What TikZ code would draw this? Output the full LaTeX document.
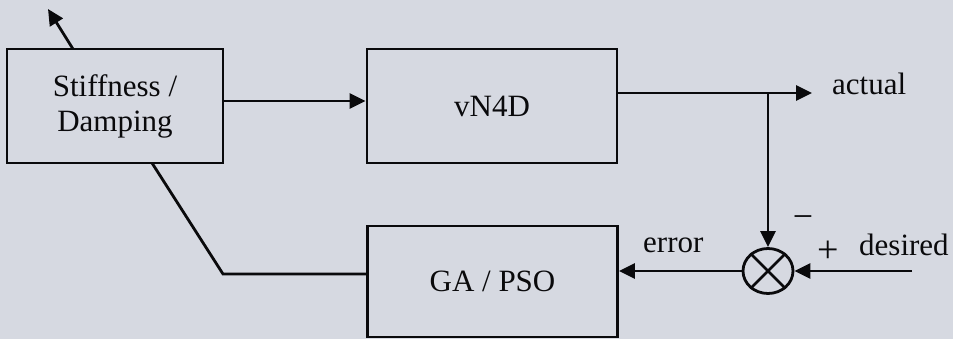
\documentclass[tikz,border=0pt]{standalone}
\usepackage{fontspec}
\setmainfont{Liberation Serif}
\usetikzlibrary{arrows.meta,shapes.geometric}
\definecolor{paper}{RGB}{214,217,225}
\definecolor{ink}{RGB}{10,10,12}
\tikzset{
  blk/.style={draw=ink, line width=2.8pt, rectangle, inner sep=0pt, align=center,
    font=\fontsize{31}{35}\selectfont, text=ink},
  lbl/.style={inner sep=0pt, font=\fontsize{31}{35}\selectfont, text=ink},
  sgn/.style={inner sep=0pt, text=ink},
  con/.style={draw=ink, line width=2.8pt},
  arr/.style={con, -{Triangle[length=16pt,width=15pt]}},
}
\begin{document}
\begin{tikzpicture}[x=1pt,y=-1pt]
\fill[paper] (0,0) rectangle (953,339);
\useasboundingbox (0,0) rectangle (953,339);
\node[blk, minimum width=216pt, minimum height=114pt] (stiff) at (115,106) {Stiffness /\\Damping};
\node[blk, minimum width=250pt, minimum height=114pt] (vn4d) at (492,106) {vN4D};
\node[blk, minimum width=250pt, minimum height=111pt] (ga) at (492.5,281.5) {GA / PSO};
\node[draw=ink, line width=2.8pt, ellipse, minimum width=50pt, minimum height=45pt, inner sep=0pt] (sum) at (768,271) {};
\draw[con] (sum.45) -- (sum.225) (sum.135) -- (sum.315);
% free ends and bends
\coordinate (top) at (48,9);
\coordinate (stop) at (73,49);
\coordinate (out) at (812,93);
\coordinate (br) at (768,93);
\coordinate (din) at (912,271);
\coordinate (kink) at (223,274);
\coordinate (sb) at (152,163);
% connectors
\draw[arr] (stop) -- (top);
\draw[arr] ([yshift=5pt]stiff.east) -- ([yshift=5pt]vn4d.west);
\draw[arr] (vn4d.east |- out) -- (out);
\draw[arr] (br) -- (sum.north);
\draw[arr] (din) -- (sum.east);
\draw[arr] (sum.west) -- (ga.east |- sum.west);
\draw[con] (ga.west |- kink) -- (kink) -- (sb);
% labels
\node[lbl, anchor=base west] (actual) at (832,95) {actual};
\node[lbl, anchor=base west] (desired) at (859,255) {desired};
\node[lbl, anchor=base west] (error) at (643,252) {error};
\node[sgn, font=\fontsize{36}{40}\selectfont] (minus) at (803,222) {−};
\node[sgn, font=\fontsize{38}{42}\selectfont] (plus) at (828,252) {+};
\end{tikzpicture}
\end{document}
